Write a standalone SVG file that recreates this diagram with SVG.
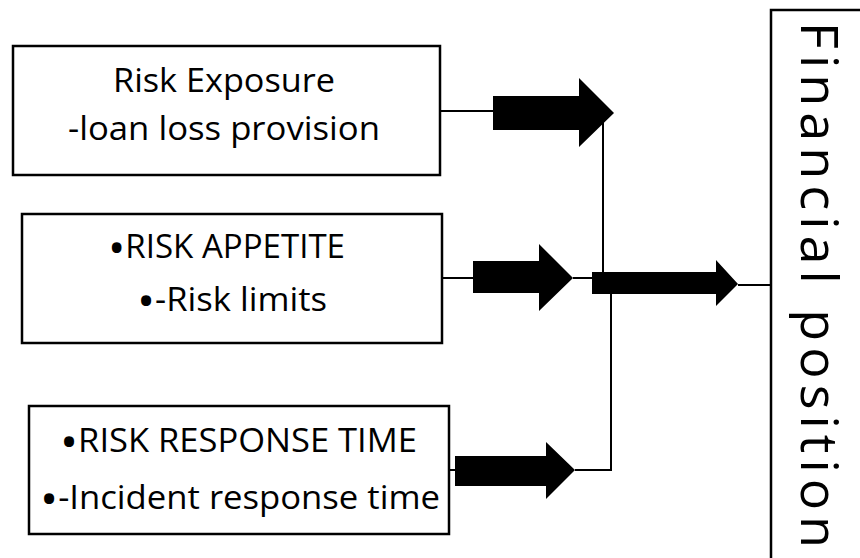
<svg xmlns="http://www.w3.org/2000/svg" width="860" height="558" viewBox="0 0 860 558">
<style>
.box{fill:#fff;stroke:#000;stroke-width:2.5}
.t{font-family:"Open Sans","Noto Sans",sans-serif;font-size:33px;fill:#000}
.b{font-size:46px}
.big{font-family:"Open Sans","Noto Sans",sans-serif;font-size:52px;fill:#000}
.ln{stroke:#000;stroke-width:2;fill:none}
.ar{fill:#000;stroke:none}
</style>
<rect width="860" height="558" fill="#fff"/>
<g id="connectors">
<polyline class="ln" points="440,111 493,111"/>
<polygon class="ar" points="493,96 579,96 579,78 614,113 579,147 579,130 493,130"/>
<polyline class="ln" points="603,118 603,273"/>
<polyline class="ln" points="442,278 473,278"/>
<polygon class="ar" points="473,261 539,261 539,244 573,278 539,311 539,293 473,293"/>
<polyline class="ln" points="573,278 592,278"/>
<polygon class="ar" points="592,272 716,272 716,260 738,284 716,306 716,294 592,294"/>
<polyline class="ln" points="738,285 771,285"/>
<polyline class="ln" points="611,294 611,470 575,470"/>
<polyline class="ln" points="449,470 455,470"/>
<polygon class="ar" points="455,456 546,456 546,442 575,470 546,499 546,486 455,486"/>
</g>
<g id="risk-exposure">
<rect class="box" x="13" y="46" width="427" height="129"/>
<text class="t" x="113" y="92" textLength="222" lengthAdjust="spacingAndGlyphs">Risk Exposure</text>
<text class="t" x="68" y="140" textLength="312" lengthAdjust="spacingAndGlyphs">-loan loss provision</text>
</g>
<g id="risk-appetite">
<rect class="box" x="22" y="214" width="420" height="129"/>
<text class="t" x="108" y="258" textLength="237" lengthAdjust="spacingAndGlyphs"><tspan class="b" dy="6">•</tspan><tspan dy="-6">RISK APPETITE</tspan></text>
<text class="t" x="137" y="311" textLength="190" lengthAdjust="spacingAndGlyphs"><tspan class="b" dy="6">•</tspan><tspan dy="-6">-Risk limits</tspan></text>
</g>
<g id="risk-response">
<rect class="box" x="29" y="406" width="420" height="128"/>
<text class="t" x="60" y="452" textLength="357" lengthAdjust="spacingAndGlyphs"><tspan class="b" dy="6">•</tspan><tspan dy="-6">RISK RESPONSE TIME</tspan></text>
<text class="t" x="40" y="509" textLength="400" lengthAdjust="spacingAndGlyphs"><tspan class="b" dy="6">•</tspan><tspan dy="-6">-Incident response time</tspan></text>
</g>
<g id="financial-position">
<rect class="box" x="771" y="10" width="110" height="570"/>
<text class="big" transform="translate(801,22) rotate(90)" textLength="526" lengthAdjust="spacing">Financial position</text>
</g>
</svg>
